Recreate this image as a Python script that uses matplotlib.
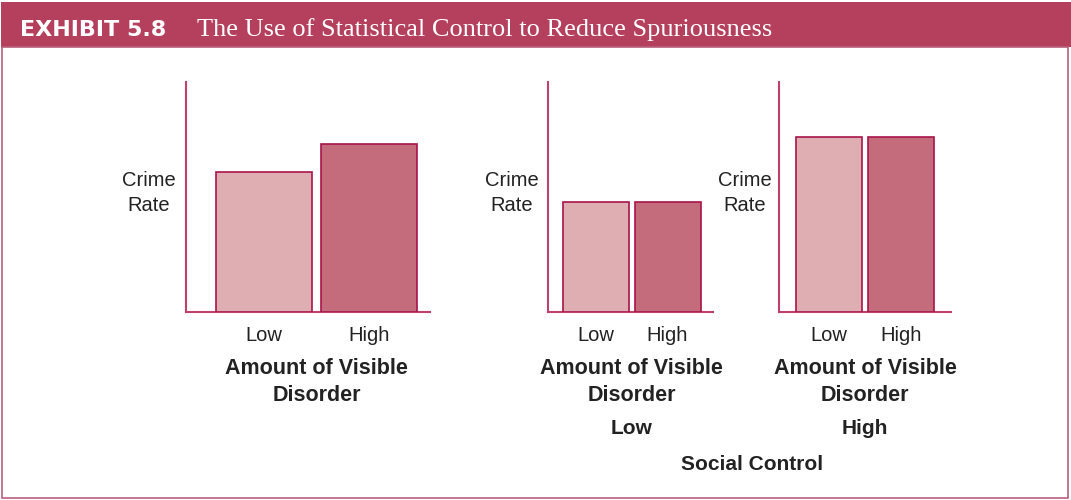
import matplotlib.pyplot as plt
from matplotlib.patches import Rectangle

# data (crime rate, arbitrary units)
categories = ["Low", "High"]
overall = [6.1, 7.3]
low_control = [4.8, 4.8]
high_control = [7.6, 7.6]

W, H = 1071, 500
fig = plt.figure(figsize=(W / 100, H / 100), dpi=100)
plt.rcParams['font.family'] = ['Liberation Sans', 'DejaVu Sans']

c_low = '#deaeb2'
c_high = '#c46c7b'
c_edge = '#a8144a'
c_axis = '#c0406a'
c_head = '#b5405e'


def px(x, y):
    # pixel coords (origin top-left) -> figure fraction
    return x / W, 1 - y / H


# header band and frame
fig.patches.append(Rectangle((1 / W, 1 - 47 / H), 1070 / W, 45 / H, transform=fig.transFigure,
                             facecolor=c_head, edgecolor='none'))
fig.patches.append(Rectangle((2 / W, 1 - 498 / H), 1066 / W, 451 / H, transform=fig.transFigure,
                             facecolor='none', edgecolor='#b8607a', linewidth=1.2))
fig.text(*px(20, 30), "EXHIBIT 5.8", color='white', fontsize=16, fontweight='bold',
         family='DejaVu Sans Condensed', va='center', ha='left')
fig.text(*px(197, 30), "The Use of Statistical Control to Reduce Spuriousness", color='white',
         fontsize=19, family='Liberation Serif', va='center', ha='left')


def panel(left, right, c0, c1, width_px, values, ylab_x, title=None):
    top, base = 82, 312
    ax = fig.add_axes([left / W, 1 - base / H, (right - left) / W, (base - top) / H])
    step = c1 - c0
    ax.bar([0, 1], values, width=width_px / step, color=[c_low, c_high],
           edgecolor=c_edge, linewidth=1.2, zorder=3)
    ax.set_xlim((left - c0) / step, (right - c0) / step)
    ax.set_ylim(0, 10)
    for s in ['top', 'right']:
        ax.spines[s].set_visible(False)
    for s in ['left', 'bottom']:
        ax.spines[s].set_color(c_axis)
        ax.spines[s].set_linewidth(1.5)
    ax.set_yticks([])
    ax.set_xticks([0, 1])
    ax.set_xticklabels(categories, fontsize=14.5, color='#222222')
    ax.tick_params(axis='x', length=0, pad=10)
    mid = (c0 + c1) / 2
    fig.text(*px(ylab_x, 193), "Crime\nRate", fontsize=14.5, color='#222222',
             ha='center', va='center', linespacing=1.35)
    fig.text(*px(mid, 382), "Amount of Visible\nDisorder", fontsize=15.5, fontweight='bold',
             color='#222222', ha='center', va='center', linespacing=1.4)
    if title:
        fig.text(*px(mid, 428), title, fontsize=15, fontweight='bold', color='#222222',
                 ha='center', va='center')
    return ax


panel(186, 430, 264, 369, 96, overall, 149)
panel(548, 713, 596, 667.5, 66, low_control, 512, "Low")
panel(779, 951, 829, 901, 66, high_control, 745, "High")

fig.text(*px(752, 464), "Social Control", fontsize=15, fontweight='bold', color='#222222',
         ha='center', va='center')

fig.savefig("out.png", dpi=100)
